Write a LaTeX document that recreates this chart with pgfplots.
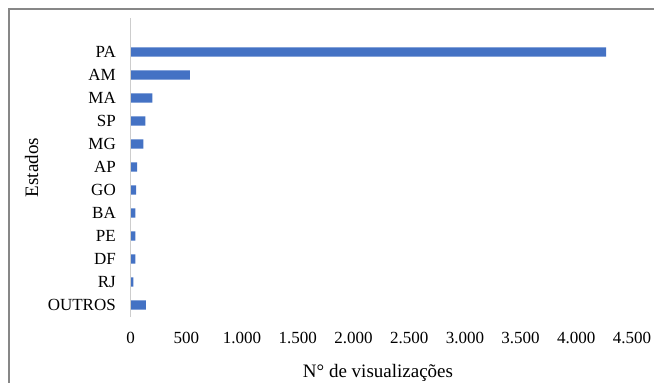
\documentclass[border=0pt]{standalone}
\usepackage{fontspec}
\setmainfont{Liberation Serif}
\usepackage{pgfplots}
\pgfplotsset{compat=1.18}
\definecolor{barblue}{HTML}{4472C4}
\definecolor{framegray}{RGB}{135,135,135}
\definecolor{axisgray}{RGB}{205,205,205}
\begin{document}
\begin{tikzpicture}[font=\fontsize{17}{20}\selectfont]
\useasboundingbox (0,0) rectangle (654pt,-383pt);
\draw[framegray, line width=2pt] (8.5pt,-420pt) -- (8.5pt,-9.3pt) -- (700pt,-9.3pt);
\begin{axis}[
  at={(130.7pt,-317pt)}, anchor=south west,
  scale only axis, width=501.3pt, height=299pt,
  xmin=0, xmax=4500, ymin=-1.48, ymax=11.52,
  y dir=reverse,
  xbar, bar width=9.3pt,
  axis line style={draw=none},
  major tick length=0pt,
  xtick={0,500,1000,1500,2000,2500,3000,3500,4000,4500},
  xticklabels={0,500,1.000,1.500,2.000,2.500,3.000,3.500,4.000,4.500},
  ytick={0,1,2,3,4,5,6,7,8,9,10,11},
  yticklabels={PA,AM,MA,SP,MG,AP,GO,BA,PE,DF,RJ,OUTROS},
  tick label style={font=\fontsize{17}{20}\selectfont},
  xticklabel style={anchor=base, inner sep=0pt, yshift=-26pt},
  yticklabel style={anchor=base east, inner sep=0pt, xshift=-14.7pt, yshift=-5.6pt},
  clip=false,
]
\addplot[fill=barblue, draw=none] coordinates {
  (4267,0) (532,1) (194,2) (131,3) (113,4) (57,5) (48,6) (41,7) (41,8) (42,9) (23,10) (137,11)
};
\draw[axisgray, line width=1.2pt] (axis cs:0,-1.48) -- (axis cs:0,11.52);
\end{axis}
\node[anchor=base, inner sep=0pt, font=\fontsize{19}{22}\selectfont] at (378pt,-377pt) {N° de visualizações};
\node[anchor=base, inner sep=0pt, rotate=90, font=\fontsize{19}{22}\selectfont] at (38pt,-167.5pt) {Estados};
\end{tikzpicture}
\end{document}
